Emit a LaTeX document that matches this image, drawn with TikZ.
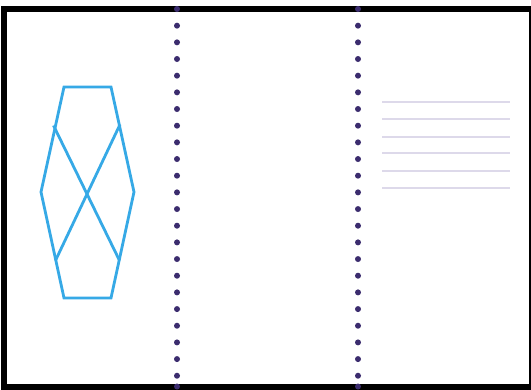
\documentclass[tikz,border=0pt]{standalone}
\definecolor{hexblue}{HTML}{36A9E6}
\definecolor{dotpurple}{HTML}{3B2C6E}
\definecolor{lineLav}{HTML}{DDD9EA}
\tikzset{
  frame/.style={line width=5.5pt, draw=black},
  hexline/.style={line width=2.8pt, draw=hexblue, line join=miter},
  dotmark/.style={fill=dotpurple},
  lavline/.style={line width=1.8pt, draw=lineLav},
}
\begin{document}
\begin{tikzpicture}[x=1pt,y=-1pt]
\useasboundingbox (0,0) rectangle (531,389);
\fill[white] (0,0) rectangle (531,389);
% frame
\draw[frame] (4,9) rectangle (531.5,386.8);
% hexagon
\draw[hexline] (64,87) -- (111,87) -- (134,192) -- (111,298) -- (64,298) -- (41,192) -- cycle;
\draw[hexline] (53.5,125.5) -- (119.5,260.5);
\draw[hexline] (120,124.5) -- (55.5,260.5);
% dotted dividers
\foreach \xx in {177,358}{
  \foreach \k in {0,...,22}{
    \fill[dotmark] (\xx,{9+16.67*\k}) circle (3);
  }
  \fill[dotmark] (\xx,386.5) circle (3);
}
% lavender lines
\foreach \yy in {101.7,119.3,136.7,152.7,170.7,188}{
  \draw[lavline] (382,\yy) -- (510,\yy);
}
\end{tikzpicture}
\end{document}
